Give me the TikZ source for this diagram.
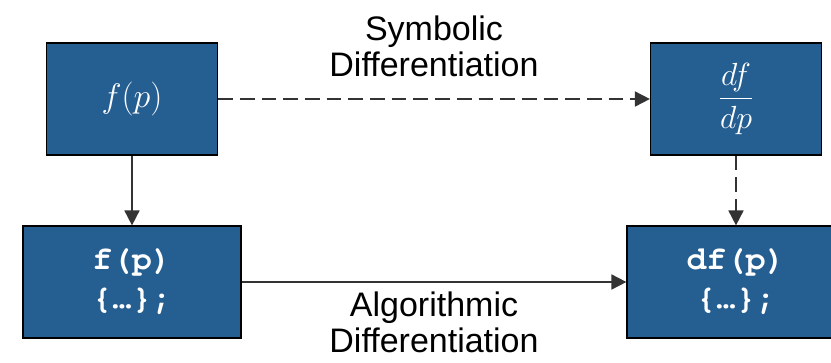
\RequirePackage{fix-cm}
\documentclass[tikz,border=0pt]{standalone}
\usepackage{fontspec}
\setmainfont{Liberation Sans}
\setmonofont{TeX Gyre Cursor}
\usepackage{amsmath}
\usetikzlibrary{arrows.meta}
\definecolor{boxblue}{HTML}{255E91}

\begin{document}
\begin{tikzpicture}[x=1pt, y=-1pt,
    blockbox/.style = {draw=black, line width=1.2pt, fill=boxblue, text=white,
                       minimum height=112pt, inner sep=0pt},
    codebox/.style = {blockbox, minimum width=218pt, align=center,
                      font=\fontsize{33}{39}\selectfont\ttfamily\bfseries},
    linkarrow/.style = {draw=black!80, line width=1.8pt,
                        -{Triangle[length=15pt,width=15pt]}},
    dasharrow/.style = {linkarrow, dash pattern=on 14.7pt off 7pt},
    caption/.style = {align=center, font=\fontsize{34}{36}\selectfont}]

    \useasboundingbox (0,0) rectangle (831,362);
    \clip (0,0) rectangle (831,362);

    % the function and its derivative
    \node[blockbox, minimum width=171pt] (func) at (132,99)
        {\fontsize{34}{38}\selectfont $f(p)$};
    \node[blockbox, minimum width=171pt] (deriv) at (736,99)
        {\fontsize{32}{38}\selectfont $\dfrac{df}{dp}$};

    % the programs
    \node[codebox] (prog) at (132,282) {f(p)\\\{…\};};
    \node[codebox] (dprog) at (736,282) {df(p)\\\{…\};};

    \draw[dasharrow] (func) -- (deriv);
    \draw[linkarrow] (func) -- (prog);
    \draw[dasharrow] (deriv) -- (dprog);
    \draw[linkarrow] (prog) -- (dprog);

    \node[caption] (symb) at (434,46) {Symbolic\\Differentiation};
    \node[caption] (algo) at (434,322) {Algorithmic\\Differentiation};

\end{tikzpicture}
\end{document}
